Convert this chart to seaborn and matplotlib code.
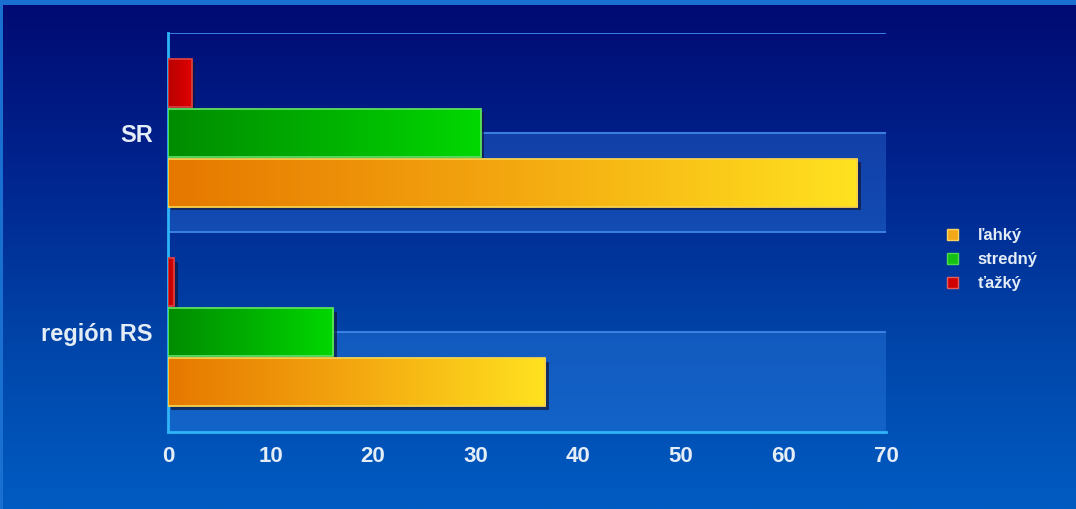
import numpy as np
import pandas as pd
import matplotlib
matplotlib.use("Agg")
import matplotlib.pyplot as plt
import seaborn as sns
from matplotlib.colors import LinearSegmentedColormap
from matplotlib.patches import Rectangle, Patch
from matplotlib.transforms import ScaledTranslation

# data
regions = ["SR", "región RS"]
severity = ["ľahký", "stredný", "ťažký"]
lahky = [67.2, 36.8]
stredny = [30.5, 16.1]
tazky = [2.3, 0.6]

df = pd.DataFrame({
    "region": regions * 3,
    "stupen": [severity[0]] * 2 + [severity[1]] * 2 + [severity[2]] * 2,
    "hodnota": lahky + stredny + tazky,
})

sns.set_theme(style="white")
plt.rcParams["font.family"] = ["Liberation Sans", "DejaVu Sans"]
plt.rcParams["font.weight"] = "bold"

fig = plt.figure(figsize=(10.76, 5.09), dpi=100)

# background gradient over the whole figure
bg = fig.add_axes([0, 0, 1, 1], zorder=-10)
bg_cmap = LinearSegmentedColormap.from_list("bg", ["#000a72", "#00248e", "#0044a8", "#005cc2"])
grad = np.linspace(0, 1, 256).reshape(-1, 1)
bg.imshow(grad, aspect="auto", cmap=bg_cmap, extent=[0, 1, 0, 1], origin="upper")
bg.add_patch(Rectangle((0, 0.99), 1, 0.01, color="#1a70d0", lw=0))
bg.add_patch(Rectangle((0, 0), 0.003, 1, color="#1a70d0", lw=0))
bg.set_xlim(0, 1)
bg.set_ylim(0, 1)
bg.axis("off")

ax = fig.add_axes([0.1561, 0.1513, 0.6673, 0.7839])
ax.patch.set_alpha(0)

hue_order = ["ťažký", "stredný", "ľahký"]
sns.barplot(data=df, x="hodnota", y="region", hue="stupen", hue_order=hue_order,
            order=regions, orient="h", width=0.75, gap=0.04, legend=False, ax=ax)

# lighter bands in the lower half of each category
for lo in [0, 1]:
    ax.axhspan(lo, lo + 0.5, color="#3d8ff5", alpha=0.3, lw=0, zorder=0)
for yy in [-0.5, 0, 0.5, 1]:
    ax.hlines(yy, 0, 70, color="#3f86e8", lw=1.3, zorder=1)

grad_maps = {
    "ľahký": (LinearSegmentedColormap.from_list("o", ["#e67800", "#f4a810", "#ffe220"]), "#f6d24a"),
    "stredný": (LinearSegmentedColormap.from_list("g", ["#008c00", "#00b000", "#00d800"]), "#5ee05e"),
    "ťažký": (LinearSegmentedColormap.from_list("r", ["#b80000", "#e00000"]), "#d84040"),
}
hgrad = np.linspace(0, 1, 256).reshape(1, -1)
shadow_tr = ax.transData + ScaledTranslation(2.5 / 72, -2.5 / 72, fig.dpi_scale_trans)
for cont, name in zip(ax.containers, hue_order):
    cmap, edge = grad_maps[name]
    for bar in cont:
        x0, y0 = bar.get_x(), bar.get_y()
        w, h = bar.get_width(), bar.get_height()
        ax.add_patch(Rectangle((x0, y0), w, h, transform=shadow_tr,
                               color="#10183a", alpha=0.7, lw=0, zorder=2))
        bar.set_facecolor("none")
        bar.set_edgecolor(edge)
        bar.set_linewidth(1.3)
        bar.set_zorder(4)
        im = ax.imshow(hgrad, aspect="auto", cmap=cmap,
                       extent=[x0, x0 + w, y0 + h, y0], zorder=3)
        im.set_clip_path(bar)

ax.set_xlim(0, 70)
ax.set_ylim(1.5, -0.5)
ax.set_xlabel("")
ax.set_ylabel("")

axis_col = "#2fb4f8"
for s in ["top", "right"]:
    ax.spines[s].set_visible(False)
for s in ["left", "bottom"]:
    ax.spines[s].set_color(axis_col)
    ax.spines[s].set_linewidth(2)

ax.set_xticks(range(0, 71, 10))
ax.tick_params(axis="x", colors=axis_col, length=7, width=2, direction="out",
               labelcolor="#e4ecf6", labelsize=16, pad=3)
ax.set_yticks([0, 1])
ax.set_yticklabels(regions)
ax.set_yticks([-0.5, 0.5, 1.5], minor=True)
ax.tick_params(axis="y", which="major", length=0, labelcolor="#e4ecf6", labelsize=17, pad=11)
ax.tick_params(axis="y", which="minor", length=7, width=2, color=axis_col, direction="out")
for lab in ax.get_xticklabels() + ax.get_yticklabels():
    lab.set_fontweight("bold")

handles = [
    Patch(facecolor="#f2a818", edgecolor="#f8d460", label="ľahký"),
    Patch(facecolor="#14c014", edgecolor="#50d850", label="stredný"),
    Patch(facecolor="#d00000", edgecolor="#e06060", label="ťažký"),
]
fig.legend(handles=handles, loc="center left", bbox_to_anchor=(0.866, 0.49),
           frameon=False, handlelength=0.65, handleheight=0.65, handletextpad=1.2,
           labelspacing=0.55, prop={"weight": "bold", "size": 12}, labelcolor="#e4ecf6")

fig.savefig("out.png", dpi=100)
